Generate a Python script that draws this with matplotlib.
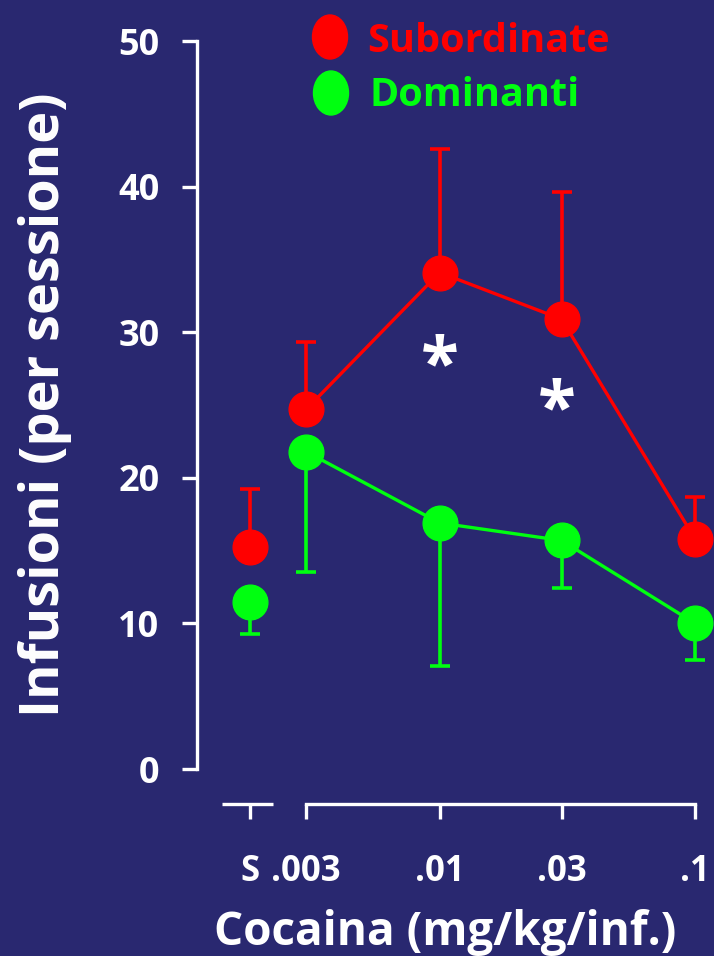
import numpy as np
import matplotlib
matplotlib.use("Agg")
from matplotlib import pyplot as plt
from matplotlib.patches import Ellipse

plt.rcParams['font.family'] = ['Open Sans', 'DejaVu Sans']
plt.rcParams['font.weight'] = 'bold'

# data
doses = [0.003, 0.01, 0.03, 0.1]
dose_labels = ['.003', '.01', '.03', '.1']
sub_mean = [24.7, 34.1, 30.9, 15.8]
sub_err = [4.6, 8.5, 8.7, 2.9]
dom_mean = [21.8, 16.9, 15.7, 10.0]
dom_err = [8.3, 9.8, 3.3, 2.5]
sub_saline, sub_saline_err = 15.25, 3.95
dom_saline, dom_saline_err = 11.5, 2.2

bg = '#292870'
red = '#ff0000'
green = '#00ff10'
white = 'white'

s_pos = 10 ** -2.742  # where the saline point sits on the log axis

fig = plt.figure(figsize=(7.14, 9.56), dpi=100, facecolor=bg)
ax = fig.add_axes([197 / 714, 152 / 956, 1 - 197 / 714, 799.4 / 956])
ax.set_facecolor(bg)
ax.set_xscale('log')
ax.set_xlim(10 ** -2.95, 10 ** -0.926)
ax.set_ylim(-2.4, 52.5)

kw = dict(lw=2.4, ms=25, capsize=7.5, capthick=2.6, elinewidth=2.6, clip_on=False)
ax.errorbar(doses, sub_mean, yerr=[np.zeros(4), sub_err], color=red, marker='o', **kw, zorder=3)
ax.errorbar(doses, dom_mean, yerr=[dom_err, np.zeros(4)], color=green, marker='o', **kw, zorder=4)
ax.errorbar([s_pos], [sub_saline], yerr=[[0], [sub_saline_err]], color=red, marker='o', **kw, zorder=3)
ax.errorbar([s_pos], [dom_saline], yerr=[[dom_saline_err], [0]], color=green, marker='o', **kw, zorder=4)

# significance stars
ax.text(0.01, 27.5, '*', color=white, fontsize=50, ha='center', va='center')
ax.text(0.0287, 24.5, '*', color=white, fontsize=50, ha='center', va='center')

for s in ['top', 'right']:
    ax.spines[s].set_visible(False)
ax.spines['left'].set_bounds(0, 50)
ax.spines['bottom'].set_bounds(0.003, 0.1)
for s in ['left', 'bottom']:
    ax.spines[s].set_color(white)
    ax.spines[s].set_linewidth(2.4)

# separate short axis piece under saline
ax.plot([10 ** -2.852, 10 ** -2.652], [0, 0], color=white, lw=2.4,
        transform=ax.get_xaxis_transform(), clip_on=False, solid_capstyle='butt')

ax.minorticks_off()
ax.set_xticks([s_pos] + doses)
ax.set_xticklabels(['S'] + dose_labels)
ax.set_yticks([0, 10, 20, 30, 40, 50])
ax.tick_params(axis='both', colors=white, length=11, width=2.4, direction='out')
ax.tick_params(axis='x', pad=25, labelsize=25)
ax.tick_params(axis='y', pad=16, labelsize=26)
ax.minorticks_off()

ax.set_xlabel('Cocaina (mg/kg/inf.)', color=white, fontsize=33, fontweight='bold', va='center')
ax.xaxis.set_label_coords(0.48, -0.161)
ax.set_ylabel('Infusioni (per sessione)', color=white, fontsize=39, fontweight='bold')
ax.yaxis.set_label_coords(-0.242, 0.5)

# legend
fig.add_artist(Ellipse((330 / 714, 1 - 37 / 956), 35 / 714, 44 / 956, color=red, transform=fig.transFigure))
fig.add_artist(Ellipse((331 / 714, 1 - 93 / 956), 35 / 714, 44 / 956, color=green, transform=fig.transFigure))
fig.text(367 / 714, 1 - 42 / 956, 'Subordinate', color=red, fontsize=28.5, va='center', ha='left')
fig.text(369 / 714, 1 - 96 / 956, 'Dominanti', color=green, fontsize=28.5, va='center', ha='left')

fig.savefig('out.png', dpi=100, facecolor=bg)
